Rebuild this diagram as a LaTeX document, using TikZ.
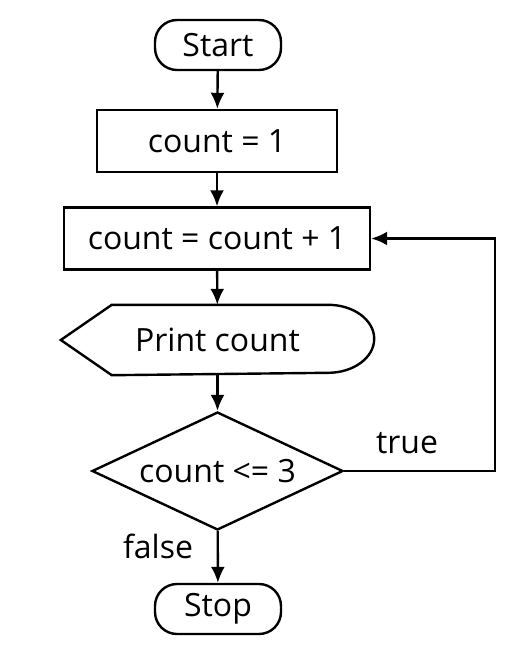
\documentclass[tikz,border=0pt]{standalone}
\usepackage{fontspec}
\setmainfont{Open Sans}
\usetikzlibrary{shapes.geometric,arrows.meta}

\tikzset{every picture/.style={line width=1.2pt}}
\tikzset{
    term/.style={draw, rounded corners=11pt, minimum width=63pt, minimum height=25pt, inner sep=0pt},
    procbox/.style={draw, minimum height=31pt, inner sep=0pt},
    decide/.style={draw, diamond, shape aspect=2.13, minimum width=125.5pt, minimum height=59pt, inner sep=0pt},
    flow/.style={-{Latex[length=8pt, width=7pt]}},
}

\begin{document}
\begin{tikzpicture}[x=0.5pt, y=-0.5pt, font=\fontsize{16}{18}\selectfont]
        \useasboundingbox (0,0) rectangle (522,662);
        % nodes
        \node[term] (start) at (218,45) {Start};
        \node[procbox, minimum width=120pt] (init) at (217,141) {count = 1};
        \node[procbox, minimum width=153pt] (incr) at (217,238.5) {count = count + 1};
        \node[minimum width=155.5pt, minimum height=34pt, inner sep=0pt] (print) at (217.5,340) {Print count};
        \draw (print.west) -- ([xshift=25.5pt]print.north west) -- ([xshift=-23pt]print.north east)
            arc[start angle=90, end angle=-90, x radius=23pt, y radius=17pt]
            -- ([xshift=25.5pt]print.south west) -- cycle;
        \node[decide] (test) at (217.5,471) {count <= 3};
        \node[term] (stop) at (218,609) {Stop};
        \coordinate (loop) at (495,471);
        % connectors
        \draw[flow] (start) -- (init);
        \draw[flow] (init) -- (incr);
        \draw[flow] (incr) -- (print);
        \draw[flow] (print) -- (test);
        \draw[flow] (test) -- (stop);
        \draw[flow] (test.east) -- (loop) |- (incr.east);
        % labels
        \node (truelbl) at (407,443) {true};
        \node (falselbl) at (158,546) {false};
    \end{tikzpicture}
\end{document}
